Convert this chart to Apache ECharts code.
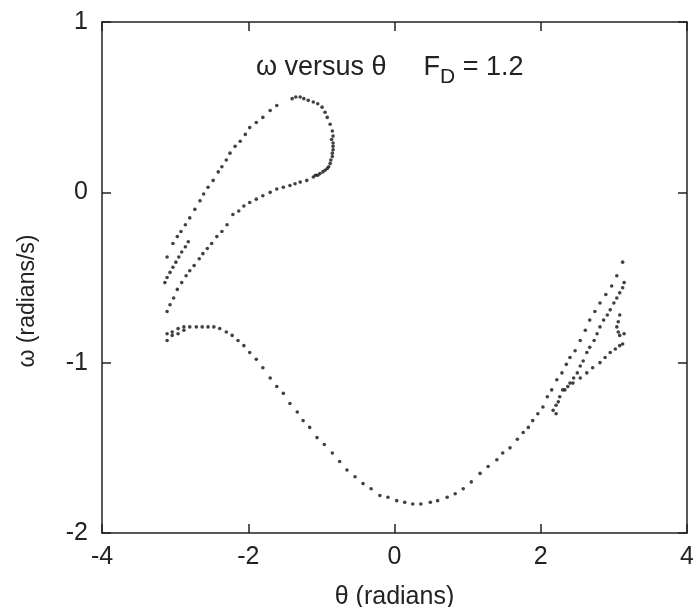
<!DOCTYPE html>
<html>
<head>
<meta charset="utf-8">
<script src="https://cdn.jsdelivr.net/npm/echarts@6/dist/echarts.min.js"></script>
<style>
  html, body { margin: 0; padding: 0; background: #fff; }
  #main { width: 693px; height: 607px; }
</style>
</head>
<body>
<div id="main"></div>
<script>
// Poincare section, F_D = 1.2  (theta, omega)
const xTicks = [-4, -2, 0, 2, 4]
const yTicks = [-2, -1, 0, 1]

// upper loop: left branch up, round the top, back down the inner branch
const loopPoints = [
  [-3.03, -0.30], [-2.97, -0.26], [-2.92, -0.23], [-2.86, -0.19], [-2.80, -0.15],
  [-2.73, -0.10], [-2.66, -0.05], [-2.61, -0.01], [-2.55, 0.03], [-2.48, 0.07],
  [-2.41, 0.12], [-2.36, 0.15], [-2.30, 0.19], [-2.25, 0.23], [-2.18, 0.27],
  [-2.11, 0.30], [-2.04, 0.34], [-1.98, 0.38], [-1.89, 0.41], [-1.80, 0.44],
  [-1.70, 0.48], [-1.61, 0.51],
  [-1.40, 0.55], [-1.35, 0.56], [-1.29, 0.56], [-1.24, 0.55], [-1.18, 0.54],
  [-1.11, 0.53], [-1.05, 0.52], [-0.99, 0.50], [-0.95, 0.47], [-0.92, 0.44],
  [-0.88, 0.40], [-0.85, 0.36], [-0.84, 0.33], [-0.86, 0.31], [-0.84, 0.29],
  [-0.84, 0.27], [-0.84, 0.25], [-0.85, 0.23], [-0.85, 0.21], [-0.87, 0.19],
  [-0.88, 0.17], [-0.90, 0.15], [-0.92, 0.14], [-0.95, 0.13], [-0.98, 0.12],
  [-1.02, 0.11], [-1.05, 0.10], [-1.08, 0.10], [-1.11, 0.09], [-1.20, 0.07],
  [-1.29, 0.06], [-1.36, 0.05], [-1.43, 0.04], [-1.52, 0.03], [-1.61, 0.02],
  [-1.70, 0.00], [-1.80, -0.02], [-1.89, -0.04], [-1.98, -0.06], [-2.06, -0.08],
  [-2.13, -0.11], [-2.21, -0.13], [-2.29, -0.19], [-2.36, -0.23], [-2.43, -0.26],
  [-2.50, -0.30], [-2.56, -0.33], [-2.62, -0.36], [-2.67, -0.39], [-2.74, -0.43],
  [-2.80, -0.46], [-2.85, -0.49], [-2.91, -0.53], [-2.97, -0.57], [-3.02, -0.62],
  [-3.07, -0.66], [-3.11, -0.70]
]

// short strip near theta = -pi
const stripPoints = [
  [-3.11, -0.38],
  [-2.82, -0.29], [-2.86, -0.32], [-2.91, -0.35], [-2.95, -0.38], [-2.99, -0.41],
  [-3.03, -0.44], [-3.07, -0.47], [-3.11, -0.50], [-3.14, -0.53]
]

// big lower arc from theta = -pi to the right edge
const lowerPoints = [
  [-3.11, -0.87], [-3.11, -0.83], [-3.04, -0.84], [-3.04, -0.82], [-2.96, -0.83],
  [-2.96, -0.80], [-2.88, -0.81], [-2.88, -0.79], [-2.80, -0.79], [-2.71, -0.79],
  [-2.63, -0.79], [-2.55, -0.79], [-2.47, -0.79], [-2.39, -0.80], [-2.30, -0.82],
  [-2.22, -0.84], [-2.14, -0.87], [-2.06, -0.90], [-1.98, -0.94], [-1.89, -0.98],
  [-1.80, -1.03], [-1.70, -1.09], [-1.61, -1.14], [-1.52, -1.18], [-1.43, -1.24],
  [-1.33, -1.29], [-1.25, -1.34], [-1.16, -1.38], [-1.06, -1.44], [-0.96, -1.48],
  [-0.85, -1.53], [-0.75, -1.58], [-0.65, -1.63], [-0.54, -1.67], [-0.43, -1.71],
  [-0.32, -1.74], [-0.20, -1.78], [-0.09, -1.79], [0.03, -1.81], [0.14, -1.82],
  [0.25, -1.83], [0.36, -1.83], [0.49, -1.82], [0.59, -1.81], [0.72, -1.79],
  [0.83, -1.77], [0.94, -1.74], [1.05, -1.70], [1.17, -1.65], [1.28, -1.61],
  [1.40, -1.57], [1.48, -1.53], [1.58, -1.50], [1.68, -1.45], [1.76, -1.41],
  [1.83, -1.38], [1.89, -1.34], [1.96, -1.30], [2.03, -1.26], [2.09, -1.20],
  [2.15, -1.16], [2.22, -1.10], [2.29, -1.06], [2.35, -1.01], [2.40, -0.97],
  [2.47, -0.93], [2.54, -0.87], [2.61, -0.81], [2.67, -0.75], [2.74, -0.70],
  [2.81, -0.65], [2.89, -0.60], [2.97, -0.55], [3.04, -0.49], [3.12, -0.41]
]

// the tangled strands at the right
const clusterPoints = [
  [2.21, -1.30], [2.24, -1.23],
  [2.17, -1.28], [2.21, -1.25], [2.26, -1.20], [2.33, -1.16], [2.40, -1.12],
  [2.45, -1.09], [2.50, -1.06], [2.54, -1.02], [2.58, -0.99], [2.63, -0.94],
  [2.67, -0.91], [2.73, -0.87], [2.77, -0.83], [2.81, -0.79], [2.86, -0.75],
  [2.91, -0.72], [2.95, -0.69], [3.00, -0.65], [3.04, -0.62], [3.08, -0.59],
  [3.12, -0.56], [3.14, -0.53],
  [2.30, -1.16], [2.37, -1.14], [2.44, -1.12], [2.54, -1.09], [2.63, -1.06],
  [2.71, -1.03], [2.81, -1.00], [2.88, -0.97], [2.95, -0.94], [3.02, -0.92],
  [3.08, -0.90], [3.12, -0.89],
  [3.08, -0.72], [3.06, -0.76], [3.04, -0.79], [3.06, -0.82], [3.08, -0.84],
  [3.14, -0.83]
]

const FONT = '"Liberation Sans", Arial, Helvetica, sans-serif'
const INK = '#222'

function frameAxis (extra) {
  return Object.assign({
    type: 'value',
    axisLine: { show: true, onZero: false, lineStyle: { color: INK, width: 1.5 } },
    axisTick: { show: true, inside: true, length: 9, lineStyle: { color: INK, width: 1.5 } },
    splitLine: { show: false },
    axisLabel: { show: false }
  }, extra)
}

const chart = echarts.init(document.getElementById('main'), null, { renderer: 'canvas' })
chart.setOption({
  backgroundColor: '#fff',
  animation: false,
  title: {
    text: '{a|ω versus θ}{gap|}{a|F}{s|D}{a| = 1.2}',
    left: 251,
    top: 42,
    textStyle: {
      fontWeight: 'normal',
      rich: {
        a: { fontFamily: FONT, fontSize: 27, fontWeight: 'normal', color: INK },
        gap: { width: 37 },
        s: { fontFamily: FONT, fontSize: 21, fontWeight: 'normal', color: INK, padding: [20, 0, 0, 0] }
      }
    }
  },
  grid: { left: 102, right: 6, top: 22, bottom: 74, outerBoundsMode: 'none' },
  xAxis: [
    frameAxis({
      min: -4, max: 4, interval: 2, position: 'bottom',
      axisLabel: { show: true, margin: 12, fontFamily: FONT, fontSize: 25, color: INK },
      name: 'θ (radians)',
      nameLocation: 'middle',
      nameGap: 52,
      nameTextStyle: { fontFamily: FONT, fontSize: 25, color: INK }
    }),
    frameAxis({ min: -4, max: 4, interval: 2, position: 'top' })
  ],
  yAxis: [
    frameAxis({
      min: -2, max: 1, interval: 1, position: 'left',
      axisLabel: { show: true, margin: 14, fontFamily: FONT, fontSize: 25, color: INK }
    }),
    frameAxis({ min: -2, max: 1, interval: 1, position: 'right' })
  ],
  graphic: [{
    type: 'text',
    x: 28,
    y: 301,
    rotation: Math.PI / 2,
    style: {
      text: 'ω (radians/s)',
      fontFamily: FONT,
      fontSize: 23,
      fill: INK,
      textAlign: 'center',
      textVerticalAlign: 'middle'
    }
  }],
  series: [{
    type: 'scatter',
    symbol: 'circle',
    symbolSize: 3.6,
    itemStyle: { color: '#111' },
    data: [].concat(loopPoints, stripPoints, lowerPoints, clusterPoints)
  }]
})
</script>
</body>
</html>
